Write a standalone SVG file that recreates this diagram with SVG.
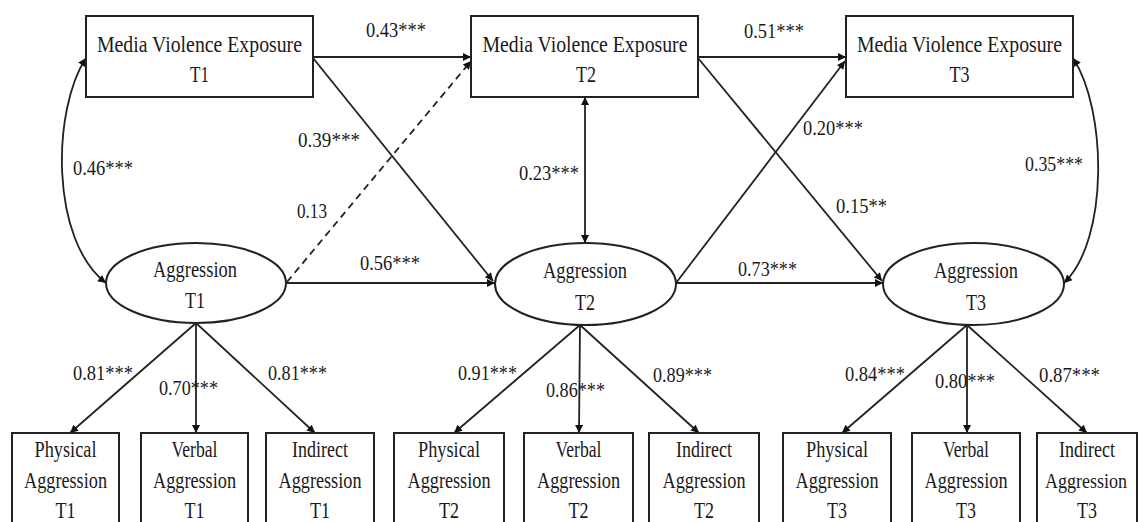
<svg xmlns="http://www.w3.org/2000/svg" width="1139" height="522" viewBox="0 0 1139 522" font-family="'Liberation Serif', 'DejaVu Serif', serif">
<style>
.box{fill:#fff;stroke:#222;stroke-width:2}
text{font-family:'Liberation Serif','DejaVu Serif',serif;fill:#1a1a1a}
.t{text-anchor:middle}
.big{font-size:24px}
.mid{font-size:23px}
.lab{font-size:22px}
.ln{fill:none;stroke:#222;stroke-width:1.8;marker-end:url(#ah)}
.dbl{marker-start:url(#ah)}
.dash{stroke-dasharray:7 5}
</style>
<defs>
<marker id="ah" viewBox="0 0 10 10" refX="10" refY="5" markerWidth="11" markerHeight="8" markerUnits="userSpaceOnUse" orient="auto-start-reverse">
<path d="M0,0 L10,5 L0,10 z" fill="#111"/>
</marker>
</defs>
<rect width="1139" height="522" fill="#fff"/>

<g id="connectors">
<path class="ln" d="M313,57 L471,57"/>
<path class="ln" d="M698,57 L846,57"/>
<path class="ln" d="M313,58 L493,281"/>
<path class="ln dash" d="M287,282 L471,61"/>
<path class="ln" d="M698,58 L882,281"/>
<path class="ln" d="M676,283 L845,61"/>
<path class="ln" d="M286,283 L495,283"/>
<path class="ln" d="M676,283 L883,283"/>
<path class="ln dbl" d="M585,97 L585,243"/>
<path class="ln dbl" d="M86,58 C52,110 50,240 106,283"/>
<path class="ln dbl" d="M1073,58 C1107,110 1109,240 1064,283"/>
<path class="ln" d="M196,323 L70,433"/>
<path class="ln" d="M196,323 L196,433"/>
<path class="ln" d="M196,323 L315,433"/>
<path class="ln" d="M580,325 L454,433"/>
<path class="ln" d="M580,325 L579,433"/>
<path class="ln" d="M580,325 L699,433"/>
<path class="ln" d="M967,325 L842,433"/>
<path class="ln" d="M967,325 L967,433"/>
<path class="ln" d="M967,325 L1087,433"/>
</g>

<g id="labels">
<text class="lab" x="366" y="37" textLength="60" lengthAdjust="spacingAndGlyphs">0.43***</text>
<text class="lab" x="744" y="38" textLength="60" lengthAdjust="spacingAndGlyphs">0.51***</text>
<text class="lab" x="73" y="175" textLength="60" lengthAdjust="spacingAndGlyphs">0.46***</text>
<text class="lab" x="298" y="147" textLength="62" lengthAdjust="spacingAndGlyphs">0.39***</text>
<text class="lab" x="297" y="218" textLength="30" lengthAdjust="spacingAndGlyphs">0.13</text>
<text class="lab" x="360" y="270" textLength="60" lengthAdjust="spacingAndGlyphs">0.56***</text>
<text class="lab" x="519" y="180" textLength="60" lengthAdjust="spacingAndGlyphs">0.23***</text>
<text class="lab" x="803" y="135" textLength="60" lengthAdjust="spacingAndGlyphs">0.20***</text>
<text class="lab" x="836" y="213" textLength="51" lengthAdjust="spacingAndGlyphs">0.15**</text>
<text class="lab" x="738" y="276" textLength="59" lengthAdjust="spacingAndGlyphs">0.73***</text>
<text class="lab" x="1025" y="171" textLength="58" lengthAdjust="spacingAndGlyphs">0.35***</text>
<text class="lab" x="73" y="380" textLength="60" lengthAdjust="spacingAndGlyphs">0.81***</text>
<text class="lab" x="159" y="395" textLength="59" lengthAdjust="spacingAndGlyphs">0.70***</text>
<text class="lab" x="268" y="380" textLength="59" lengthAdjust="spacingAndGlyphs">0.81***</text>
<text class="lab" x="458" y="380" textLength="59" lengthAdjust="spacingAndGlyphs">0.91***</text>
<text class="lab" x="546" y="397" textLength="59" lengthAdjust="spacingAndGlyphs">0.86***</text>
<text class="lab" x="653" y="382" textLength="59" lengthAdjust="spacingAndGlyphs">0.89***</text>
<text class="lab" x="845" y="381" textLength="60" lengthAdjust="spacingAndGlyphs">0.84***</text>
<text class="lab" x="935" y="388" textLength="60" lengthAdjust="spacingAndGlyphs">0.80***</text>
<text class="lab" x="1039" y="382" textLength="61" lengthAdjust="spacingAndGlyphs">0.87***</text>
</g>

<g id="mve1">
<rect class="box" x="86" y="16" width="227" height="81"/>
<text class="t big" x="199.5" y="52" textLength="205" lengthAdjust="spacingAndGlyphs">Media  Violence  Exposure</text>
<text class="t big" x="199.5" y="82" textLength="19" lengthAdjust="spacingAndGlyphs">T1</text>
</g>
<g id="mve2">
<rect class="box" x="471" y="16" width="227" height="81"/>
<text class="t big" x="585" y="52" textLength="205" lengthAdjust="spacingAndGlyphs">Media  Violence  Exposure</text>
<text class="t big" x="586" y="82" textLength="20" lengthAdjust="spacingAndGlyphs">T2</text>
</g>
<g id="mve3">
<rect class="box" x="846" y="16" width="227" height="81"/>
<text class="t big" x="959.5" y="52" textLength="205" lengthAdjust="spacingAndGlyphs">Media  Violence  Exposure</text>
<text class="t big" x="959.5" y="82" textLength="20" lengthAdjust="spacingAndGlyphs">T3</text>
</g>

<g id="agg1">
<ellipse class="box" cx="196" cy="283" rx="90" ry="40"/>
<text class="t mid" x="195" y="277" textLength="84" lengthAdjust="spacingAndGlyphs">Aggression</text>
<text class="t mid" x="195" y="308" textLength="20" lengthAdjust="spacingAndGlyphs">T1</text>
</g>
<g id="agg2">
<ellipse class="box" cx="585.5" cy="284" rx="90.5" ry="41"/>
<text class="t mid" x="585" y="278" textLength="84" lengthAdjust="spacingAndGlyphs">Aggression</text>
<text class="t mid" x="585" y="310" textLength="20" lengthAdjust="spacingAndGlyphs">T2</text>
</g>
<g id="agg3">
<ellipse class="box" cx="973.5" cy="284" rx="90.5" ry="41"/>
<text class="t mid" x="976" y="278" textLength="84" lengthAdjust="spacingAndGlyphs">Aggression</text>
<text class="t mid" x="976" y="310" textLength="20" lengthAdjust="spacingAndGlyphs">T3</text>
</g>

<g id="phys1">
<rect class="box" x="12" y="433" width="107" height="110"/>
<text class="t mid" x="65.5" y="457" textLength="62" lengthAdjust="spacingAndGlyphs">Physical</text>
<text class="t mid" x="65.5" y="488" textLength="83" lengthAdjust="spacingAndGlyphs">Aggression</text>
<text class="t mid" x="65.5" y="518" textLength="20" lengthAdjust="spacingAndGlyphs">T1</text>
</g>
<g id="verb1">
<rect class="box" x="141" y="433" width="107" height="110"/>
<text class="t mid" x="194.5" y="457" textLength="46" lengthAdjust="spacingAndGlyphs">Verbal</text>
<text class="t mid" x="194.5" y="488" textLength="83" lengthAdjust="spacingAndGlyphs">Aggression</text>
<text class="t mid" x="194.5" y="518" textLength="20" lengthAdjust="spacingAndGlyphs">T1</text>
</g>
<g id="ind1">
<rect class="box" x="266" y="433" width="108" height="110"/>
<text class="t mid" x="320" y="457" textLength="56" lengthAdjust="spacingAndGlyphs">Indirect</text>
<text class="t mid" x="320" y="488" textLength="83" lengthAdjust="spacingAndGlyphs">Aggression</text>
<text class="t mid" x="320" y="518" textLength="20" lengthAdjust="spacingAndGlyphs">T1</text>
</g>

<g id="phys2">
<rect class="box" x="394" y="433" width="110" height="110"/>
<text class="t mid" x="449" y="457" textLength="62" lengthAdjust="spacingAndGlyphs">Physical</text>
<text class="t mid" x="449" y="488" textLength="83" lengthAdjust="spacingAndGlyphs">Aggression</text>
<text class="t mid" x="449" y="518" textLength="20" lengthAdjust="spacingAndGlyphs">T2</text>
</g>
<g id="verb2">
<rect class="box" x="524" y="433" width="109" height="110"/>
<text class="t mid" x="578.5" y="457" textLength="46" lengthAdjust="spacingAndGlyphs">Verbal</text>
<text class="t mid" x="578.5" y="488" textLength="83" lengthAdjust="spacingAndGlyphs">Aggression</text>
<text class="t mid" x="578.5" y="518" textLength="20" lengthAdjust="spacingAndGlyphs">T2</text>
</g>
<g id="ind2">
<rect class="box" x="649" y="433" width="110" height="110"/>
<text class="t mid" x="704" y="457" textLength="56" lengthAdjust="spacingAndGlyphs">Indirect</text>
<text class="t mid" x="704" y="488" textLength="83" lengthAdjust="spacingAndGlyphs">Aggression</text>
<text class="t mid" x="704" y="518" textLength="20" lengthAdjust="spacingAndGlyphs">T2</text>
</g>

<g id="phys3">
<rect class="box" x="783" y="433" width="108" height="110"/>
<text class="t mid" x="837" y="457" textLength="62" lengthAdjust="spacingAndGlyphs">Physical</text>
<text class="t mid" x="837" y="488" textLength="83" lengthAdjust="spacingAndGlyphs">Aggression</text>
<text class="t mid" x="837" y="518" textLength="20" lengthAdjust="spacingAndGlyphs">T3</text>
</g>
<g id="verb3">
<rect class="box" x="912" y="433" width="108" height="110"/>
<text class="t mid" x="966" y="457" textLength="46" lengthAdjust="spacingAndGlyphs">Verbal</text>
<text class="t mid" x="966" y="488" textLength="83" lengthAdjust="spacingAndGlyphs">Aggression</text>
<text class="t mid" x="966" y="518" textLength="20" lengthAdjust="spacingAndGlyphs">T3</text>
</g>
<g id="ind3">
<rect class="box" x="1037" y="433" width="100" height="110"/>
<text class="t" x="1087" y="457" font-size="23" textLength="56" lengthAdjust="spacingAndGlyphs">Indirect</text>
<text class="t" x="1086" y="488" font-size="21" textLength="82" lengthAdjust="spacingAndGlyphs">Aggression</text>
<text class="t" x="1087" y="518" font-size="23" textLength="20" lengthAdjust="spacingAndGlyphs">T3</text>
</g>
</svg>
